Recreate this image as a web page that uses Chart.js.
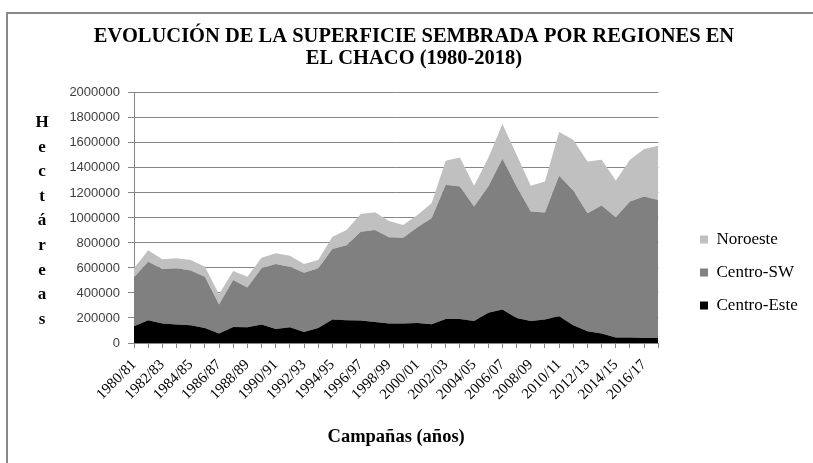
<!DOCTYPE html>
<html>
<head>
<meta charset="utf-8">
<script src="https://cdn.jsdelivr.net/npm/chart.js@4"></script>
<style>
  body { margin: 0; background: #fff; }
  #frame { position: absolute; left: 6px; top: 12px; width: 900px; height: 600px;
           border-left: 2px solid #8a8a8a; border-top: 2px solid #8a8a8a; }
  #wrap { position: absolute; left: 0; top: 0; width: 813px; height: 463px; }
</style>
</head>
<body>
<div id="frame"></div>
<div id="wrap"><canvas id="myChart" width="813" height="463"></canvas></div>
<script>
var campanas = ['1980/81', '1981/82', '1982/83', '1983/84', '1984/85', '1985/86', '1986/87', '1987/88',
    '1988/89', '1989/90', '1990/91', '1991/92', '1992/93', '1993/94', '1994/95', '1995/96', '1996/97',
    '1997/98', '1998/99', '1999/00', '2000/01', '2001/02', '2002/03', '2003/04', '2004/05', '2005/06',
    '2006/07', '2007/08', '2008/09', '2009/10', '2010/11', '2011/12', '2012/13', '2013/14', '2014/15',
    '2015/16', '2016/17', '2017/18'];

var centroEste = [134000, 182000, 156000, 147000, 142000, 120000, 75000, 128000, 126000, 147000,
    112000, 126000, 88000, 120000, 188000, 182000, 180000, 168000, 156000, 156000,
    160000, 150000, 192000, 192000, 176000, 241000, 268000, 200000, 176000, 188000,
    214000, 142000, 94000, 75000, 43000, 43000, 40000, 40000];

var centroSW = [391000, 468000, 435000, 450000, 438000, 409000, 233000, 375000, 318000, 450000,
    519000, 484000, 473000, 477000, 563000, 599000, 710000, 736000, 689000, 686000,
    765000, 847000, 1073000, 1059000, 915000, 1010000, 1205000, 1051000, 875000, 855000,
    1123000, 1077000, 944000, 1024000, 963000, 1088000, 1131000, 1104000];

var noroeste = [72000, 91000, 78000, 80000, 83000, 80000, 82000, 72000, 85000, 85000,
    86000, 88000, 70000, 66000, 99000, 123000, 142000, 142000, 131000, 102000,
    99000, 121000, 192000, 233000, 166000, 228000, 278000, 254000, 206000, 248000,
    350000, 407000, 414000, 366000, 293000, 334000, 380000, 433000];

var yTitle = 'Hectáreas';

// vertical stacked-letter axis title, like the original
var letrasPlugin = {
    id: 'letras',
    afterDraw: function(chart) {
        var c = chart.ctx, a = chart.chartArea;
        var letters = yTitle.split('');
        var step = 24.6;
        var y0 = (a.top + a.bottom) / 2 + 3 - step * (letters.length - 1) / 2;
        c.save();
        c.font = 'bold 17px "Liberation Serif"';
        c.fillStyle = '#000';
        c.textAlign = 'center';
        c.textBaseline = 'middle';
        letters.forEach(function(l, i) { c.fillText(l, a.left - 92, y0 + i * step); });
        c.restore();
    }
};

// move the legend a bit, as in the original
var legendPos = {
    id: 'legendPos',
    afterLayout: function(chart) {
        var lg = chart.legend;
        var w = lg.right - lg.left;
        lg.left = 684;
        lg.right = lg.left + w;
        lg.top += 41;
        lg.bottom += 41;
    }
};

var ctx = document.getElementById('myChart').getContext('2d');
var myChart = new Chart(ctx, {
    type: 'line',
    data: {
        labels: campanas,
        datasets: [{
            label: 'Centro-Este',
            data: centroEste,
            fill: 'origin',
            backgroundColor: '#000000',
            borderWidth: 0,
            pointRadius: 0,
            tension: 0
        },
        {
            label: 'Centro-SW',
            data: centroSW,
            fill: '-1',
            backgroundColor: '#808080',
            borderWidth: 0,
            pointRadius: 0,
            tension: 0
        },
        {
            label: 'Noroeste',
            data: noroeste,
            fill: '-1',
            backgroundColor: '#c0c0c0',
            borderWidth: 0,
            pointRadius: 0,
            tension: 0
        }]
    },
    options: {
        responsive: false,
        animation: false,
        layout: { padding: { left: 46, right: 31, top: 0, bottom: 0 } },
        plugins: {
            title: {
                display: true,
                text: ['EVOLUCIÓN DE LA SUPERFICIE SEMBRADA POR REGIONES EN', 'EL CHACO (1980-2018)'],
                color: '#000',
                font: { family: 'Liberation Serif', size: 20.5, weight: 'bold', lineHeight: 1.07 },
                padding: { top: 26, bottom: 23 }
            },
            legend: {
                position: 'right',
                reverse: true,
                labels: {
                    boxWidth: 8,
                    boxHeight: 8,
                    padding: 16,
                    color: '#000',
                    font: { family: 'Liberation Serif', size: 17 }
                }
            },
            tooltip: { enabled: false }
        },
        scales: {
            x: {
                afterFit: function(s) { s.height = 120; },
                grid: { drawOnChartArea: false, drawTicks: true, tickLength: 5, color: '#868686' },
                border: { color: '#868686' },
                ticks: {
                    autoSkip: false,
                    maxRotation: 45,
                    minRotation: 45,
                    padding: 8,
                    color: '#000',
                    font: { family: 'Liberation Serif', size: 15 },
                    callback: function(v, i) { return i % 2 === 0 ? campanas[i] : ''; }
                },
                title: {
                    display: true,
                    text: 'Campañas (años)',
                    color: '#000',
                    font: { family: 'Liberation Serif', size: 18.5, weight: 'bold' },
                    padding: { top: 0, bottom: 15 }
                }
            },
            y: {
                stacked: true,
                min: 0,
                max: 2000000,
                afterFit: function(s) { s.width = 88; },
                grid: { color: '#868686', tickLength: 6 },
                border: { color: '#868686' },
                ticks: {
                    stepSize: 200000,
                    padding: 8,
                    color: '#404040',
                    font: { family: 'Liberation Sans', size: 13 },
                    callback: function(v) { return String(v); }
                }
            }
        }
    },
    plugins: [letrasPlugin, legendPos]
});
</script>
</body>
</html>
